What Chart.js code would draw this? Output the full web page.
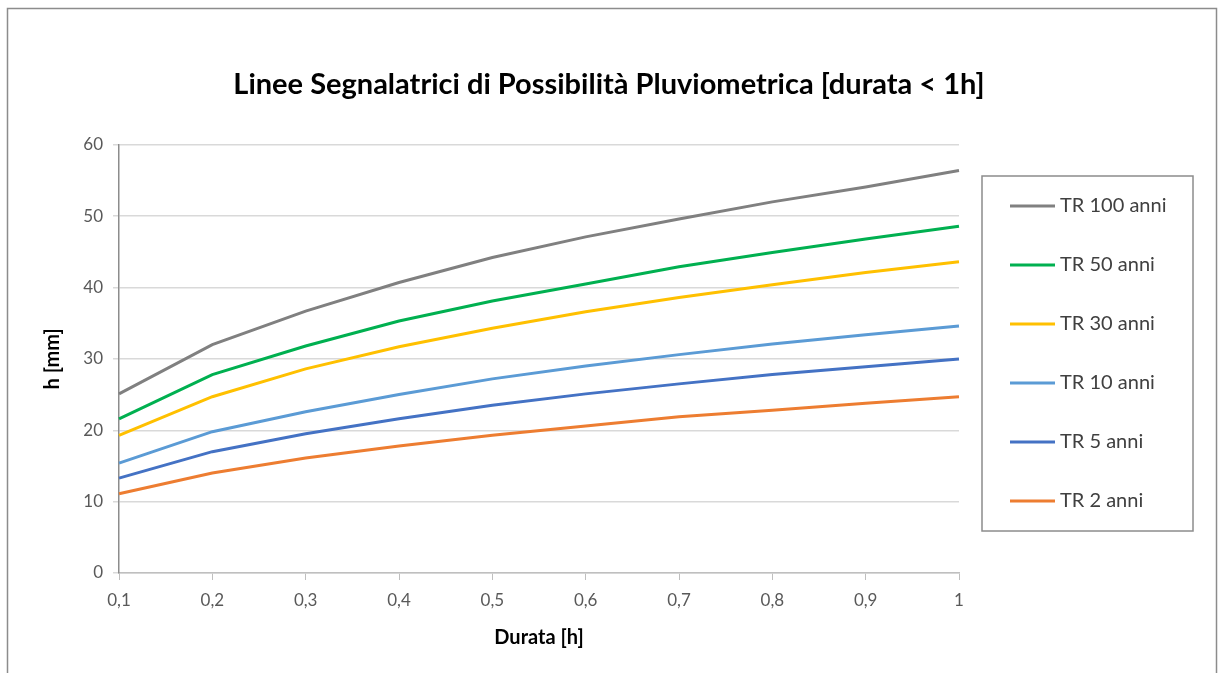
<!DOCTYPE html>
<html>
<head>
<meta charset="utf-8">
<script src="https://cdn.jsdelivr.net/npm/chart.js@4.4.0/dist/chart.umd.min.js"></script>
<style>
  body { margin: 0; background: #fff; }
  #wrap { width: 1218px; height: 673px; position: relative; }
</style>
</head>
<body>
<div id="wrap"><canvas id="lsppChart" width="1218" height="673"></canvas></div>
<script>
// Durata [h]
const durations = ['0,1', '0,2', '0,3', '0,4', '0,5', '0,6', '0,7', '0,8', '0,9', '1'];

// h [mm] per tempo di ritorno
const tr100 = [25.1, 32.0, 36.7, 40.7, 44.2, 47.1, 49.6, 52.0, 54.1, 56.4];
const tr50  = [21.6, 27.8, 31.8, 35.3, 38.1, 40.5, 42.9, 44.9, 46.8, 48.6];
const tr30  = [19.3, 24.7, 28.6, 31.7, 34.3, 36.6, 38.6, 40.4, 42.1, 43.6];
const tr10  = [15.4, 19.8, 22.6, 25.0, 27.2, 29.0, 30.6, 32.1, 33.4, 34.6];
const tr5   = [13.3, 17.0, 19.5, 21.6, 23.5, 25.1, 26.5, 27.8, 28.9, 30.0];
const tr2   = [11.1, 14.0, 16.1, 17.8, 19.3, 20.6, 21.9, 22.8, 23.8, 24.7];

const seriesLabels = ['TR 100 anni', 'TR 50 anni', 'TR 30 anni', 'TR 10 anni', 'TR 5 anni', 'TR 2 anni'];
const seriesData = [tr100, tr50, tr30, tr10, tr5, tr2];
const seriesColors = ['#808080', '#00b050', '#ffc000', '#5b9bd5', '#4472c4', '#ed7d31'];

const yTicks = [0, 10, 20, 30, 40, 50, 60];

const FONT = 'Lato, Carlito, "Open Sans", sans-serif';

// frame around the whole chart + boxed legend on the right
const framePlugin = {
    id: 'frame',
    afterLayout(chart) {
        // center the title on the whole canvas, not only on the plot side
        chart.titleBlock.left = 0;
        chart.titleBlock.right = chart.width;
    },
    beforeDraw(chart) {
        const c = chart.ctx;
        c.save();
        c.fillStyle = '#fff';
        c.fillRect(0, 0, chart.width, chart.height);
        c.strokeStyle = '#8c8c8c';
        c.lineWidth = 1.5;
        c.strokeRect(7.5, 8.5, 1209, 700);
        c.restore();
    },
    afterDraw(chart) {
        const c = chart.ctx;
        const area = chart.chartArea;
        const boxX = area.right + 23, boxY = 176, boxW = 211, boxH = 355;
        c.save();
        c.strokeStyle = '#8c8c8c';
        c.lineWidth = 1.5;
        c.strokeRect(boxX, boxY, boxW, boxH);
        c.font = '20px ' + FONT;
        c.textBaseline = 'middle';
        c.fillStyle = '#404040';
        chart.data.datasets.forEach((ds, i) => {
            const y = boxY + 30 + i * 59;
            c.strokeStyle = ds.borderColor;
            c.lineWidth = 3;
            c.beginPath();
            c.moveTo(boxX + 28, y);
            c.lineTo(boxX + 73, y);
            c.stroke();
            c.fillText(ds.label, boxX + 78, y);
        });
        c.restore();
    }
};

document.addEventListener("DOMContentLoaded", function() {
    const ctx = document.getElementById('lsppChart').getContext('2d');
    new Chart(ctx, {
        type: 'line',
        data: {
            labels: durations,
            datasets: seriesLabels.map((label, i) => ({
                label: label,
                data: seriesData[i],
                borderColor: seriesColors[i],
                backgroundColor: seriesColors[i],
                borderWidth: 3,
                pointRadius: 0,
                tension: 0,
                fill: false
            }))
        },
        options: {
            responsive: false,
            animation: false,
            layout: { padding: { left: 8, right: 259, top: 8, bottom: 8 } },
            plugins: {
                legend: { display: false },
                tooltip: { enabled: false },
                title: {
                    display: true,
                    text: 'Linee Segnalatrici di Possibilità Pluviometrica [durata < 1h]',
                    color: '#000',
                    font: { family: FONT, size: 29, weight: 'bold' },
                    padding: { top: 59, bottom: 43 }
                }
            },
            scales: {
                x: {
                    type: 'category',
                    offset: false,
                    grid: { drawOnChartArea: false, drawTicks: true, tickLength: 7, color: '#bfbfbf' },
                    border: { color: '#bfbfbf', width: 1.5 },
                    ticks: {
                        color: '#595959',
                        font: { family: FONT, size: 17 },
                        padding: 10,
                        maxRotation: 0,
                        autoSkip: false
                    },
                    title: {
                        display: true,
                        text: 'Durata [h]',
                        color: '#000',
                        font: { family: FONT, size: 20, weight: 'bold' },
                        padding: { top: 10, bottom: 15 }
                    },
                    afterFit(scale) { scale.height = 92; }
                },
                y: {
                    min: 0,
                    max: 60,
                    afterBuildTicks(scale) { scale.ticks = yTicks.map(v => ({ value: v })); },
                    grid: { color: '#d9d9d9', lineWidth: 1.5, tickLength: 6 },
                    border: { color: '#8c8c8c', width: 1.5 },
                    ticks: {
                        color: '#595959',
                        font: { family: FONT, size: 17 },
                        padding: 10
                    },
                    title: {
                        display: true,
                        text: 'h [mm]',
                        color: '#000',
                        font: { family: FONT, size: 20, weight: 'bold' },
                        padding: { top: 33, bottom: 0 }
                    },
                    afterFit(scale) { scale.width = 111; }
                }
            }
        },
        plugins: [framePlugin]
    });
});
</script>
</body>
</html>
